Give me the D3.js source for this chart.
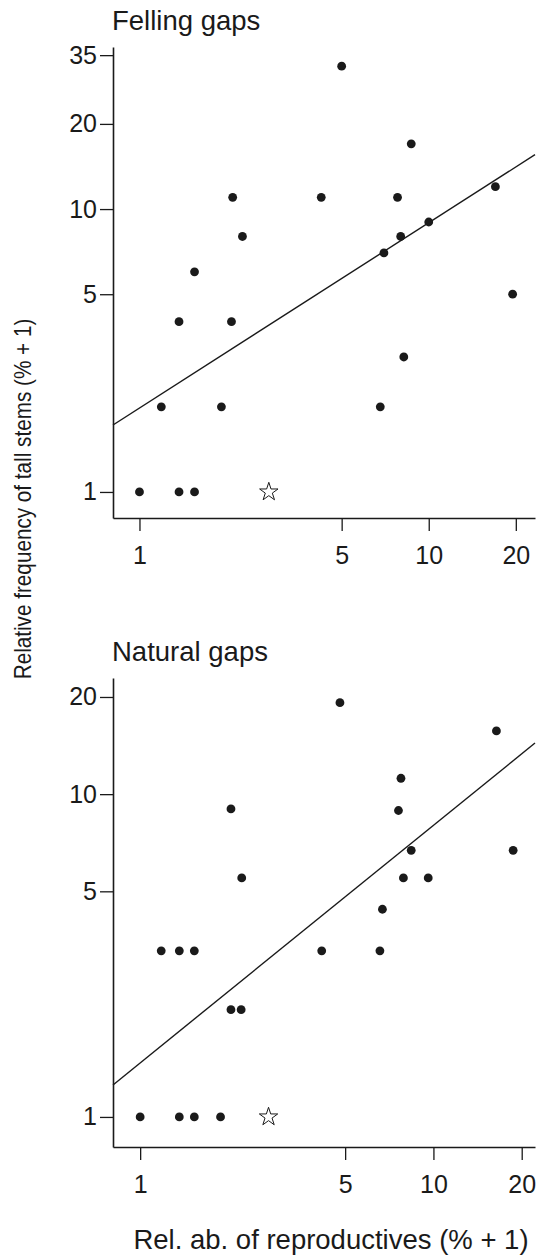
<!DOCTYPE html>
<html>
<head>
<meta charset="utf-8">
<script src="https://cdn.jsdelivr.net/npm/d3@7"></script>
<style>
  body { margin: 0; background: #fff; }
  svg { display: block; font-family: "Liberation Sans", Arial, sans-serif; }
</style>
</head>
<body>
<div id="chart"></div>
<script>
const width = 537
    , height = 1257
    , ink = '#1a1a1a'
    ;

// Felling gaps: relative abundance of reproductives (% + 1) vs tall stems (% + 1)
const fellingRepro = [5, 8.7, 2.1, 4.25, 7.8, 17, 2.27, 10, 8, 7, 1.55, 19.5, 1.37, 2.08, 8.2, 1.19, 1.92, 6.8, 1, 1.37, 1.55];
const fellingTall  = [32, 17, 11, 11, 11, 12, 8, 9, 8, 7, 6, 5, 4, 4, 3, 2, 2, 2, 1, 1, 1];
const fellingStar  = [2.8, 1];
const fellingFit   = [1.98, 0.655];   // tall = a * repro^b

// Natural gaps
const naturalRepro = [4.8, 16.4, 7.75, 2.04, 7.6, 8.4, 18.7, 2.22, 7.9, 9.6, 6.7, 1.18, 1.36, 1.53, 4.16, 6.57, 2.04, 2.21, 1, 1.36, 1.53, 1.88];
const naturalTall  = [19.2, 15.7, 11.2, 9, 8.9, 6.7, 6.7, 5.5, 5.5, 5.5, 4.4, 3.27, 3.27, 3.27, 3.27, 3.27, 2.15, 2.15, 1, 1, 1, 1];
const naturalStar  = [2.74, 1];
const naturalFit   = [1.47, 0.736];

const xTicks        = [1, 5, 10, 20];
const fellingYTicks = [1, 5, 10, 20, 35];
const naturalYTicks = [1, 5, 10, 20];

const panels = [
  { title: 'Felling gaps', xs: fellingRepro, ys: fellingTall, star: fellingStar, fit: fellingFit,
    yTicks: fellingYTicks, xDomain: [0.81, 23.3], yDomain: [0.809, 37.4], top: 47, bottom: 518 },
  { title: 'Natural gaps', xs: naturalRepro, ys: naturalTall, star: naturalStar, fit: naturalFit,
    yTicks: naturalYTicks, xDomain: [0.808, 22.2], yDomain: [0.807, 22.9], top: 678, bottom: 1147 }
];

const left = 113, right = 535;

const svg = d3.select('#chart')
  .append('svg')
  .attr('width', width)
  .attr('height', height)
  .style('background', '#fff');

panels.forEach(p => drawPanel(p));

// shared y title (slightly condensed along its length, like the scan)
svg.append('text')
  .attr('transform', `translate(31, 499) rotate(-90) scale(0.9,1)`)
  .attr('text-anchor', 'middle')
  .attr('fill', ink)
  .style('font-size', '23px')
  .text('Relative frequency of tall stems (% + 1)');

svg.append('text')
  .attr('x', 331)
  .attr('y', 1249)
  .attr('text-anchor', 'middle')
  .attr('fill', ink)
  .style('font-size', '27.5px')
  .text('Rel. ab. of reproductives (% + 1)');

function drawPanel(p) {
  const x = d3.scaleLog().domain(p.xDomain).range([left, right]);
  const y = d3.scaleLog().domain(p.yDomain).range([p.bottom, p.top]);
  const g = svg.append('g');

  g.append('text')
    .attr('x', left - 1)
    .attr('y', p.top - 17)
    .attr('fill', ink)
    .style('font-size', '27.5px')
    .text(p.title);

  const xAxis = g.append('g')
    .attr('transform', `translate(0,${p.bottom})`)
    .call(d3.axisBottom(x).tickValues(xTicks).tickFormat(d3.format('d'))
      .tickSize(13).tickSizeOuter(0).tickPadding(15));

  const yAxis = g.append('g')
    .attr('transform', `translate(${left},0)`)
    .call(d3.axisLeft(y).tickValues(p.yTicks).tickFormat(d3.format('d'))
      .tickSize(13).tickSizeOuter(0).tickPadding(3));

  [xAxis, yAxis].forEach(a => {
    a.select('.domain').attr('stroke', ink).attr('stroke-width', 1.6);
    a.selectAll('.tick line').attr('stroke', ink).attr('stroke-width', 1.3);
    a.selectAll('.tick text')
      .attr('fill', ink)
      .style('font-size', '25px')
      .style('font-family', '"Liberation Sans", Arial, sans-serif');
  });

  // fitted power line across the plot width
  const [a, b] = p.fit;
  const xd = x.domain();
  g.append('path')
    .datum(xd)
    .attr('fill', 'none')
    .attr('stroke', ink)
    .attr('stroke-width', 1.4)
    .attr('d', d3.line().x(d => x(d)).y(d => y(a * Math.pow(d, b))));

  g.append('g')
    .selectAll('circle')
    .data(p.xs.map((v, i) => [v, p.ys[i]]))
    .join('circle')
      .attr('cx', d => x(d[0]))
      .attr('cy', d => y(d[1]))
      .attr('r', 4.4)
      .attr('fill', ink);

  g.append('path')
    .attr('d', d3.symbol().type(d3.symbolStar).size(105)())
    .attr('transform', `translate(${x(p.star[0])},${y(p.star[1])})`)
    .attr('fill', '#fff')
    .attr('stroke', ink)
    .attr('stroke-width', 1);
}
</script>
</body>
</html>
